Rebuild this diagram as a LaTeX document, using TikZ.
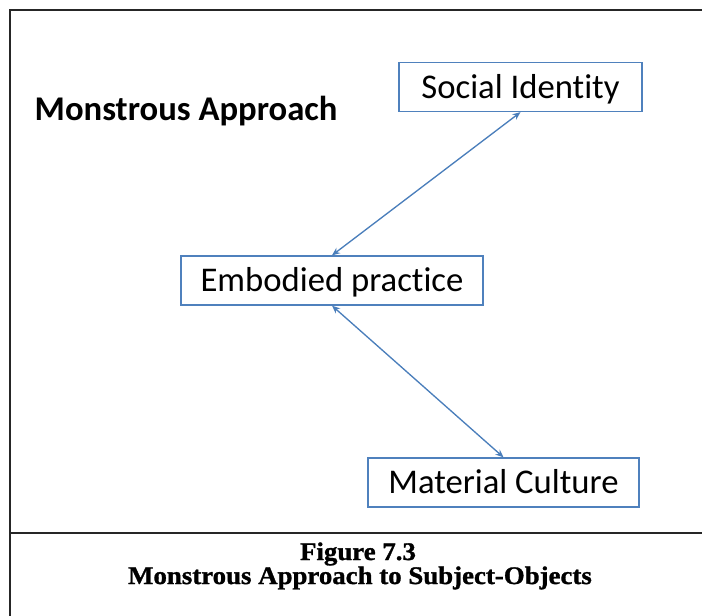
\documentclass[tikz,border=0pt]{standalone}
\usepackage{fontspec}
\setmainfont{Carlito}[Ligatures=NoCommon]
\newfontfamily\capfont[FakeStretch=1.06,BoldFeatures={FakeBold=1.2}]{Liberation Serif}
\usetikzlibrary{arrows.meta}
\definecolor{boxblue}{RGB}{79,129,189}
\definecolor{linkblue}{RGB}{74,126,187}
\definecolor{framegray}{RGB}{38,38,38}
\tikzset{
	conceptbox/.style={draw=boxblue,line width=1pt,fill=white,font=\fontsize{26}{30}\selectfont,
		text height=16.7pt,text depth=0pt,minimum height=36.75pt,inner xsep=0pt},
	link/.style={{Stealth[length=6pt,width=5pt]}-{Stealth[length=6pt,width=5pt]},draw=linkblue,line width=1pt},
	frameline/.style={draw=framegray,line width=1.6pt},
	captext/.style={anchor=base,text=black,font=\capfont\bfseries\fontsize{19}{18}\selectfont}
}
\begin{document}
\begin{tikzpicture}[x=0.75pt,y=-0.75pt]
				\clip (0,0) rectangle (702,616);
				%\draw[color=gray,step=10, help lines,opacity=0.3] (0,0) grid (702,616); %help grids
				\draw[frameline] (10,10) rectangle (720,640);
				\draw[frameline] (10,533) -- (720,533);
				\node[anchor=base west,font=\bfseries\fontsize{26}{30}\selectfont] (title) at (30,121) {Monstrous Approach};
				\node[conceptbox,minimum width=182.25pt] (social) at (520.5,87) {Social Identity};
				\node[conceptbox,minimum width=226.5pt] (embodied) at (332,280.5) {Embodied practice};
				\node[conceptbox,minimum width=203.25pt] (material) at (503.5,482.5) {Material Culture};
				\draw[link] (social.south) -- (embodied.north);
				\draw[link] (embodied.south) -- (material.north);
				\node[captext] (figno) at (358,560) {Figure 7.3};
				\node[captext] (figtitle) at (360,584) {Monstrous Approach to Subject-Objects};
\end{tikzpicture}
\end{document}
